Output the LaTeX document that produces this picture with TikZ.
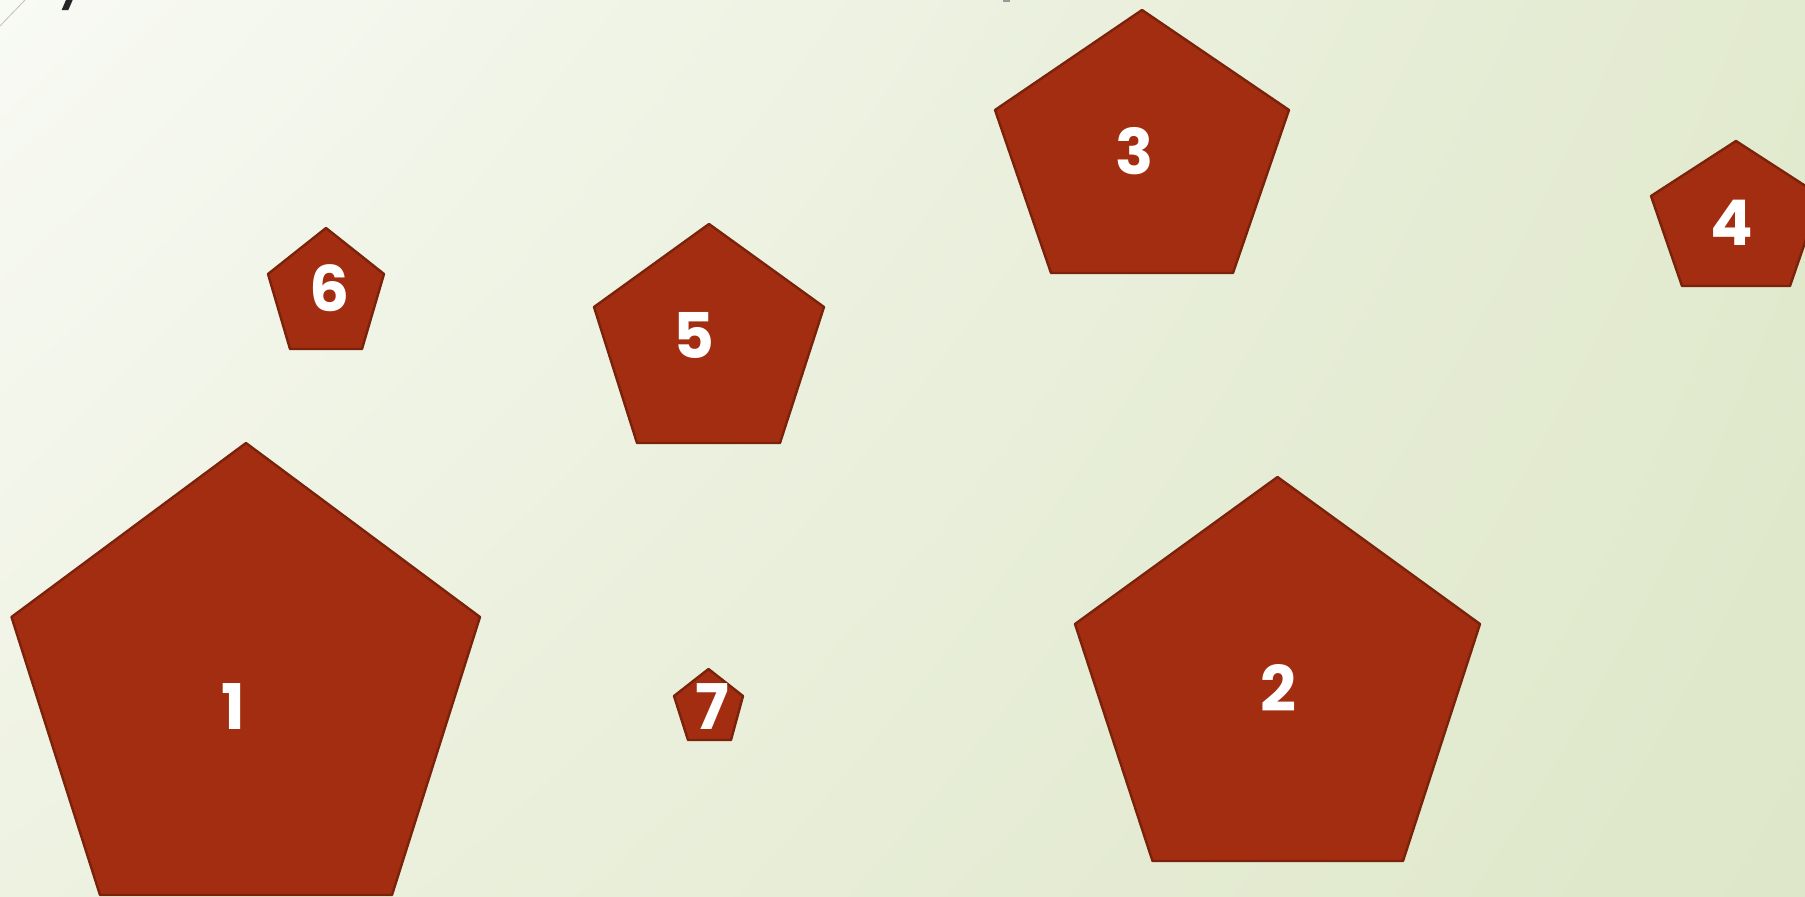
\documentclass[tikz,border=0pt]{standalone}
\usepackage{fontspec}
\usetikzlibrary{shadings}
\newfontfamily\numfont{Poppins}
\definecolor{pfill}{HTML}{A32D10}
\definecolor{pline}{HTML}{7A220A}
\definecolor{bgUL}{HTML}{F8FAF4}
\definecolor{bgUR}{HTML}{E2EACF}
\definecolor{bgLL}{HTML}{EEF2E1}
\definecolor{bgLR}{HTML}{DEE7C9}
\tikzset{
  pent/.style={fill=pfill, draw=pline, line width=2.4pt, line join=round},
  num/.style={text=white, font=\numfont\bfseries\fontsize{63}{63}\selectfont, inner sep=0pt, anchor=center}
}
\begin{document}
\begin{tikzpicture}[x=1pt, y=-1pt]
\path[use as bounding box] (0,0) rectangle (1805,897);
\shade[upper left=bgUL, upper right=bgUR, lower left=bgLL, lower right=bgLR] (0,0) rectangle (1805,897);
% stray marks at the top edge
\draw[black!25, line width=0.8pt] (0,26) -- (25,0);
\fill[black!85] (66,0) -- (72.7,0) -- (68.3,10) -- (61.7,10) -- cycle;
\fill[black!40] (1003,0) rectangle (1010,1.6);
% pentagons
\begin{scope}
\clip (0,0) rectangle (1805,897);
\draw[pent] (246,443) -- (480,617) -- (392,895) -- (100,895) -- (11.5,617) -- cycle;
\draw[pent] (1277.5,477) -- (1480,624) -- (1403,861) -- (1152.5,861) -- (1075,624) -- cycle;
\draw[pent] (1142,10) -- (1289,110) -- (1233,273) -- (1051,273) -- (995,110) -- cycle;
\draw[pent] (1736,141) -- (1821,196) -- (1790,286) -- (1682,286) -- (1651,196) -- cycle;
\draw[pent] (709,224) -- (824,307) -- (780,443) -- (637,443) -- (594,307) -- cycle;
\draw[pent] (326,228) -- (384,274) -- (362,349) -- (290,349) -- (268,274) -- cycle;
\draw[pent] (708.5,669) -- (743,696) -- (731,740) -- (688,740) -- (674,696) -- cycle;
\end{scope}
% labels
\node[num] (n1) at (233,706.5) {1};
\node[num] (n2) at (1278,687.5) {2};
\node[num] (n3) at (1134.5,151) {3};
\node[num] (n4) at (1731.5,223) {4};
\node[num] (n5) at (694,335.5) {5};
\node[num] (n6) at (330,288) {6};
\node[num] (n7) at (712,706.5) {7};
\end{tikzpicture}
\end{document}
